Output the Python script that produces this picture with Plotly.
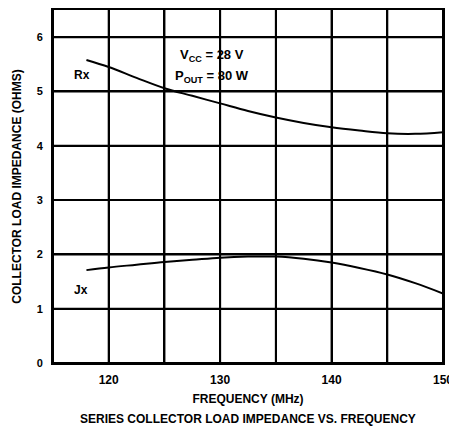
import plotly.graph_objects as go

freq = [118, 120, 122.5, 125, 127.5, 130, 132.5, 135, 137.5, 140, 142.5, 145, 147.5, 150]
rx = [5.58, 5.45, 5.25, 5.06, 4.92, 4.78, 4.64, 4.52, 4.42, 4.34, 4.28, 4.23, 4.22, 4.25]
jx = [1.71, 1.76, 1.81, 1.86, 1.90, 1.94, 1.96, 1.96, 1.92, 1.85, 1.75, 1.63, 1.47, 1.28]

x_range = [115, 150]
y_range = [0, 6.5]
x_tickvals = [115, 120, 125, 130, 135, 140, 145, 150]
x_ticktext = ["", "120", "", "130", "", "140", "", "150"]
y_tickvals = [0, 1, 2, 3, 4, 5, 6]
y_ticktext = ["0", "1", "2", "3", "4", "5", "6"]

font_family = "Liberation Sans, Arial, sans-serif"

fig = go.Figure()
fig.add_trace(go.Scatter(x=freq, y=rx, mode="lines", line=dict(color="black", width=2, shape="spline"), showlegend=False))
fig.add_trace(go.Scatter(x=freq, y=jx, mode="lines", line=dict(color="black", width=2, shape="spline"), showlegend=False))

# grid lines as shapes, positioned from the tick arrays in data coordinates
for v in x_tickvals:
    fig.add_shape(type="line", xref="x", yref="y", x0=v, x1=v, y0=y_range[0], y1=y_range[1],
                  line=dict(color="black", width=2), layer="below")
for v in y_tickvals:
    fig.add_shape(type="line", xref="x", yref="y", x0=x_range[0], x1=x_range[1], y0=v, y1=v,
                  line=dict(color="black", width=2), layer="below")

fig.update_layout(
    width=449, height=421,
    margin=dict(l=45, r=14, t=0, b=66),
    paper_bgcolor="white", plot_bgcolor="white",
    font=dict(family=font_family, color="black", size=12, weight="bold"),
    xaxis=dict(range=x_range, tickvals=x_tickvals, ticktext=x_ticktext,
               showgrid=True, gridcolor="black", gridwidth=2, zeroline=False,
               showline=True, linecolor="black", linewidth=2, mirror=True,
               ticks="", ticklabelstandoff=5,
               tickfont=dict(size=12, family=font_family, weight="bold"),
               title=dict(text="FREQUENCY (MHz)", standoff=8,
                          font=dict(size=12, family=font_family, weight="bold"))),
    yaxis=dict(range=y_range, tickvals=y_tickvals, ticktext=y_ticktext,
               showgrid=True, gridcolor="black", gridwidth=2, zeroline=False,
               showline=True, linecolor="black", linewidth=2, mirror=True,
               ticks="", ticklabelstandoff=6,
               tickfont=dict(size=11, family=font_family, weight="bold"),
               title=dict(text="COLLECTOR LOAD IMPEDANCE (OHMS)", standoff=12,
                          font=dict(size=12, family=font_family, weight="bold"))),
)

fig.add_annotation(x=117.6, y=5.3, text="Rx", showarrow=False, font=dict(size=12, weight="bold"))
fig.add_annotation(x=117.5, y=1.34, text="Jx", showarrow=False, font=dict(size=12, weight="bold"))
fig.add_annotation(x=129.3, y=5.67, text="V<sub>CC</sub> = 28 V", showarrow=False, font=dict(size=13, weight="bold"))
fig.add_annotation(x=129.3, y=5.28, text="P<sub>OUT</sub> = 80 W", showarrow=False, font=dict(size=13, weight="bold"))
fig.add_annotation(x=0.5, y=0, xref="paper", yref="paper", yshift=-56, yanchor="middle",
                   text="SERIES COLLECTOR LOAD IMPEDANCE VS. FREQUENCY", showarrow=False,
                   font=dict(size=12, weight="bold"))

fig.write_html("out.html")
